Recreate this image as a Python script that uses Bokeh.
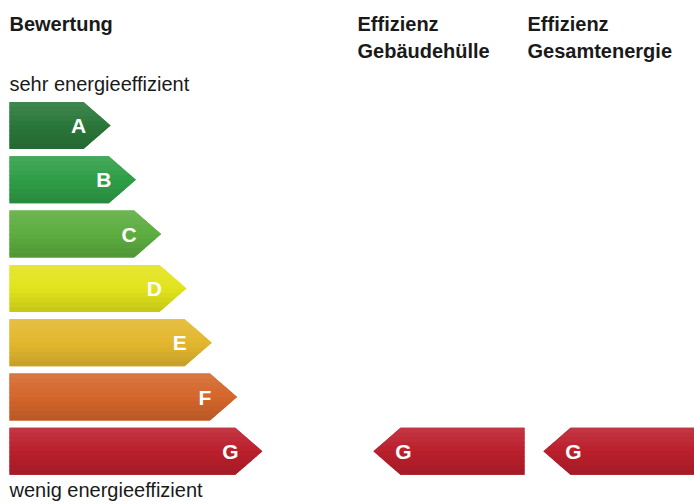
from bokeh.plotting import figure
from bokeh.models import Range1d
from bokeh.core.properties import value
from bokeh.embed import file_html
from bokeh.resources import INLINE

# ---- data ----
classes = ["A", "B", "C", "D", "E", "F", "G"]
class_colors = ["#2a773a", "#2f9e48", "#5cad3f", "#e2e41c", "#e3b72e", "#d4662b", "#bb1f2c"]
column_titles = ["Bewertung", "Effizienz\nGebäudehülle", "Effizienz\nGesamtenergie"]
rating_gebaeudehuelle = "G"
rating_gesamtenergie = "G"
top_label = "sehr energieeffizient"
bottom_label = "wenig energieeffizient"

# ---- layout constants (pixels of the page image) ----
W, H = 694, 504
X0 = 9            # left edge of scale bars
TOP0 = 101.5      # top of first bar
STEP = 54.3       # vertical spacing
BAR_H = 47.0
TIP0 = 110.0      # tip x of first bar
TIP_STEP = 25.3
POINT = 27.0      # arrow point depth

p = figure(width=W, height=H, output_backend="svg", toolbar_location=None,
           x_range=Range1d(0, W), y_range=Range1d(H, 0),
           x_axis_type=None, y_axis_type=None, min_border=0,
           outline_line_color=None, background_fill_color="white",
           border_fill_color="white")
p.grid.visible = False

FONT = value("Liberation Sans")

def mix(c, t, f):
    c = [int(c[i:i + 2], 16) for i in (1, 3, 5)]
    t = [int(t[i:i + 2], 16) for i in (1, 3, 5)]
    r = [round(a + (b - a) * f) for a, b in zip(c, t)]
    return "#%02x%02x%02x" % tuple(r)

def right_arrow_x(y, top, tip):
    mid = top + BAR_H / 2
    return tip - POINT * abs(y - mid) / (BAR_H / 2)

def left_arrow_x(y, top, tip):
    mid = top + BAR_H / 2
    return tip + POINT * abs(y - mid) / (BAR_H / 2)

NSTRIP = 10
base_xs, base_ys, base_fill = [], [], []
xs, ys, fills = [], [], []

def add_arrow(top, color, xleft_fn, xright_fn):
    mid = top + BAR_H / 2
    # solid base shape
    py = [top, mid, top + BAR_H]
    base_xs.append([xleft_fn(y) for y in py] + [xright_fn(y) for y in py[::-1]])
    base_ys.append(py + py[::-1])
    base_fill.append(color)
    # vertical gradient made of horizontal strips (lighter top, darker bottom)
    for k in range(NSTRIP):
        y0 = top + BAR_H * k / NSTRIP
        y1 = min(top + BAR_H * (k + 1) / NSTRIP + 1.0, top + BAR_H)
        pts_y = [y0, y1]
        if y0 < mid < y1:
            pts_y = [y0, mid, y1]
        left = [xleft_fn(y) for y in pts_y]
        right = [xright_fn(y) for y in pts_y]
        xs.append(left + right[::-1])
        ys.append(pts_y + pts_y[::-1])
        f = k / (NSTRIP - 1)
        if f < 0.5:
            fills.append(mix(color, "#ffffff", 0.10 * (0.5 - f) * 2))
        else:
            fills.append(mix(color, "#000000", 0.12 * (f - 0.5) * 2))

letter_x, letter_y, letter_t = [], [], []
for i, (c, col) in enumerate(zip(classes, class_colors)):
    top = TOP0 + i * STEP
    tip = TIP0 + i * TIP_STEP
    add_arrow(top, col, lambda y: X0, lambda y, top=top, tip=tip: right_arrow_x(y, top, tip))
    letter_x.append(tip - 32)
    letter_y.append(top + BAR_H / 2)
    letter_t.append(c)

# rating arrows (pointing left)
col_x = [357, 527]
col_tip = [373, 543]
col_end = [524, 710]
for rating, tip, end in zip([rating_gebaeudehuelle, rating_gesamtenergie], col_tip, col_end):
    i = classes.index(rating)
    top = TOP0 + i * STEP
    col = class_colors[i]
    add_arrow(top, col, lambda y, top=top, tip=tip: left_arrow_x(y, top, tip), lambda y, end=end: end)
    letter_x.append(tip + 30)
    letter_y.append(top + BAR_H / 2)
    letter_t.append(rating)

p.patches(xs=base_xs, ys=base_ys, fill_color=base_fill, line_color=None)
p.patches(xs=xs, ys=ys, fill_color=fills, line_color=None)

p.text(x=letter_x, y=letter_y, text=letter_t, text_color="white",
       text_font=FONT, text_font_style="bold", text_font_size="21px",
       text_align="center", text_baseline="middle")

# headers
hx = [X0, col_x[0], col_x[1]]
hdr_x, hdr_y, hdr_t = [], [], []
for x, t in zip(hx, column_titles):
    for j, line in enumerate(t.split("\n")):
        hdr_x.append(x)
        hdr_y.append(23 + j * 27)
        hdr_t.append(line)
p.text(x=hdr_x, y=hdr_y, text=hdr_t, text_color="#1a1a1a",
       text_font=FONT, text_font_style="bold", text_font_size="20px",
       text_align="left", text_baseline="alphabetic")

p.text(x=[X0, X0], y=[83, 489], text=[top_label, bottom_label], text_color="#1a1a1a",
       text_font=FONT, text_font_size="20px",
       text_align="left", text_baseline="alphabetic")

open("out.html", "w").write(file_html(p, INLINE))
